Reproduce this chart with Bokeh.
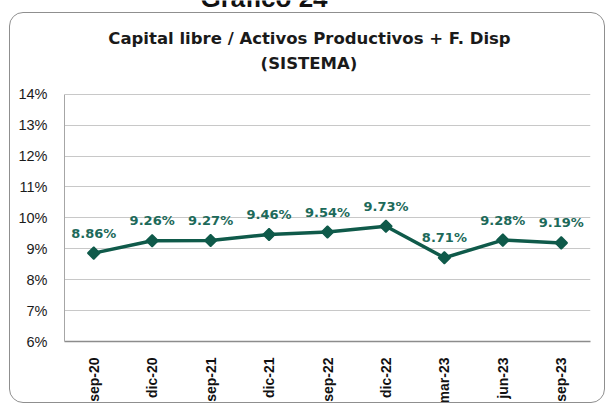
import math
from bokeh.plotting import figure
from bokeh.models import Range1d, FixedTicker, NumeralTickFormatter, InlineStyleSheet
from bokeh.core.properties import value
from bokeh.embed import file_html
from bokeh.resources import INLINE

# ---- data ----
categories = ["sep-20", "dic-20", "sep-21", "dic-21", "sep-22", "dic-22", "mar-23", "jun-23", "sep-23"]
ratio_values = [0.0886, 0.0926, 0.0927, 0.0946, 0.0954, 0.0973, 0.0871, 0.0928, 0.0919]
y_ticks = [0.06, 0.07, 0.08, 0.09, 0.10, 0.11, 0.12, 0.13, 0.14]
title_line1 = "Capital libre / Activos Productivos + F. Disp"
title_line2 = "(SISTEMA)"
header_text = "Gráfico 24"

value_labels = ["{:.2f}%".format(v * 100) for v in ratio_values]

LINE_COLOR = "#0f5a4a"
LABEL_COLOR = "#1d6a5a"

# frame spans the canvas top; 14% gridline sits 94px down, 31px per percent point
Y_MIN = 0.06
Y_MAX = 0.06 + 342 / 3100.0

box_css = InlineStyleSheet(css="""
:host { position: relative; }
:host::after {
  content: "";
  position: absolute;
  left: 9px; top: 12px; width: 596px; height: 391px;
  box-sizing: border-box;
  border: 1.3px solid #8f8f8f;
  border-radius: 14px;
  pointer-events: none;
  z-index: 10;
}
""")

p = figure(width=605, height=406, x_range=categories, y_range=Range1d(Y_MIN, Y_MAX),
           output_backend="svg", toolbar_location=None,
           min_border_left=64, min_border_right=15, min_border_top=0, min_border_bottom=64,
           stylesheets=[box_css])
p.x_range.range_padding = 0
p.background_fill_color = "white"
p.border_fill_color = "white"
p.outline_line_color = None

# axes
p.yaxis.ticker = FixedTicker(ticks=y_ticks)
p.yaxis.bounds = (0.06, 0.14)
p.yaxis.formatter = NumeralTickFormatter(format="0%")
p.yaxis.major_tick_line_color = None
p.yaxis.minor_tick_line_color = None
p.yaxis.axis_line_color = "#a6a6a6"
p.yaxis.major_label_standoff = 11
p.yaxis.major_label_text_font = "Liberation Sans"
p.yaxis.major_label_text_font_size = "14.5px"
p.yaxis.major_label_text_color = "#1a1a1a"

p.xaxis.major_tick_line_color = None
p.xaxis.minor_tick_line_color = None
p.xaxis.axis_line_color = "#8c8c8c"
p.xaxis.axis_line_width = 1.5
p.xaxis.major_label_orientation = math.pi / 2
p.xaxis.major_label_standoff = 10
p.xaxis.major_label_text_font = "Liberation Sans"
p.xaxis.major_label_text_font_style = "bold"
p.xaxis.major_label_text_font_size = "14px"
p.xaxis.major_label_text_color = "#111111"

p.xgrid.grid_line_color = None
p.ygrid.grid_line_color = "#c8c8c8"
p.ygrid.grid_line_width = 1.2

# series
p.line(categories, ratio_values, line_color=LINE_COLOR, line_width=3.5)
p.scatter(categories, ratio_values, marker="square", size=8.5, angle=math.pi / 4,
          fill_color=LINE_COLOR, line_color=LINE_COLOR, line_width=1.5)
p.text(categories, ratio_values, text=value_labels, text_font=value("DejaVu Sans"),
       text_font_style="bold", text_font_size="13px", text_color=LABEL_COLOR,
       text_align="center", text_baseline="middle", y_offset=-20)

# chart titles (placed in the upper part of the frame, above the 14% line)
p.text(x=[4.192], y=[0.06 + 304 / 3100.0], text=[title_line1], text_font=value("DejaVu Sans"),
       text_font_style="bold", text_font_size="16.5px", text_color="#1a1a1a",
       text_align="center", text_baseline="alphabetic")
p.text(x=[4.183], y=[0.06 + 279 / 3100.0], text=[title_line2], text_font=value("DejaVu Sans"),
       text_font_style="bold", text_font_size="16.5px", text_color="#1a1a1a",
       text_align="center", text_baseline="alphabetic")
p.text(x=[3.4135], y=[0.06 + 345 / 3100.0], text=[header_text], text_font=value("Liberation Sans"),
       text_font_style="bold", text_font_size="26px", text_color="#111111",
       text_align="center", text_baseline="alphabetic")

open("out.html", "w").write(file_html(p, INLINE))
